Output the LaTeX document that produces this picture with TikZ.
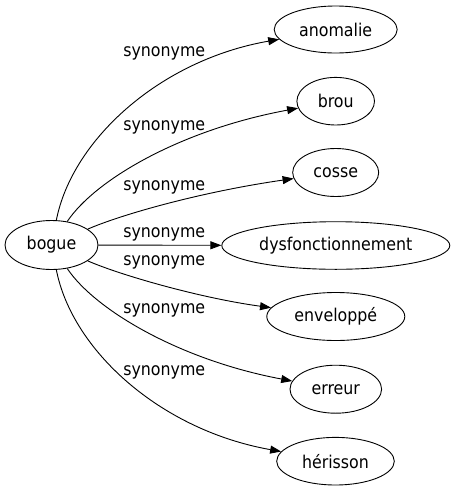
\documentclass[tikz,border=0pt]{standalone}
\usepackage{fontspec}
\setmainfont{DejaVu Sans Condensed}
\usetikzlibrary{arrows.meta,shapes.geometric}
\begin{document}
\begin{tikzpicture}[x=1pt,y=-1pt,
  every node/.style={font=\fontsize{17.6}{20}\selectfont},
  word/.style={draw,ellipse,inner sep=0pt,line width=0.9pt},
  rel/.style={draw,line width=0.9pt,-{Triangle[length=11pt,width=8pt]}},
  lab/.style={inner sep=0pt}]
\useasboundingbox (0,0) rectangle (455,491);
\node[word,minimum width=93pt,minimum height=49pt] (bogue) at (51.5,245) {bogue};
\node[word,minimum width=123pt,minimum height=47pt] (anomalie) at (335.7,29.5) {anomalie};
\node[word,minimum width=77.6pt,minimum height=47.6pt] (brou) at (335.7,101.2) {brou};
\node[word,minimum width=86pt,minimum height=48pt] (cosse) at (335.7,172.5) {cosse};
\node[word,minimum width=228pt,minimum height=47.6pt] (dysf) at (335.8,245.5) {dysfonctionnement};
\node[word,minimum width=138pt,minimum height=48pt] (env) at (335.8,316.5) {enveloppé};
\node[word,minimum width=91.6pt,minimum height=48pt] (erreur) at (335.8,389.2) {erreur};
\node[word,minimum width=117.6pt,minimum height=47.6pt] (her) at (335.5,461.2) {hérisson};
\draw[rel] (bogue) .. controls (72,140) and (160,60) .. (anomalie);
\draw[rel] (bogue) .. controls (95,180) and (180,130) .. (brou);
\draw[rel] (bogue) .. controls (120,215) and (200,192) .. (cosse);
\draw[rel] (bogue) -- (dysf);
\draw[rel] (bogue) .. controls (120,275) and (200,298) .. (env);
\draw[rel] (bogue) .. controls (95,310) and (180,360) .. (erreur);
\draw[rel] (bogue) .. controls (72,350) and (160,430) .. (her);
\node[lab] (l1) at (164.3,53) {synonyme};
\node[lab] (l2) at (164.3,127) {synonyme};
\node[lab] (l3) at (164.3,187) {synonyme};
\node[lab] (l4) at (164.3,234) {synonyme};
\node[lab] (l5) at (164.3,262) {synonyme};
\node[lab] (l6) at (164.3,310) {synonyme};
\node[lab] (l7) at (164.3,372) {synonyme};
\end{tikzpicture}
\end{document}
